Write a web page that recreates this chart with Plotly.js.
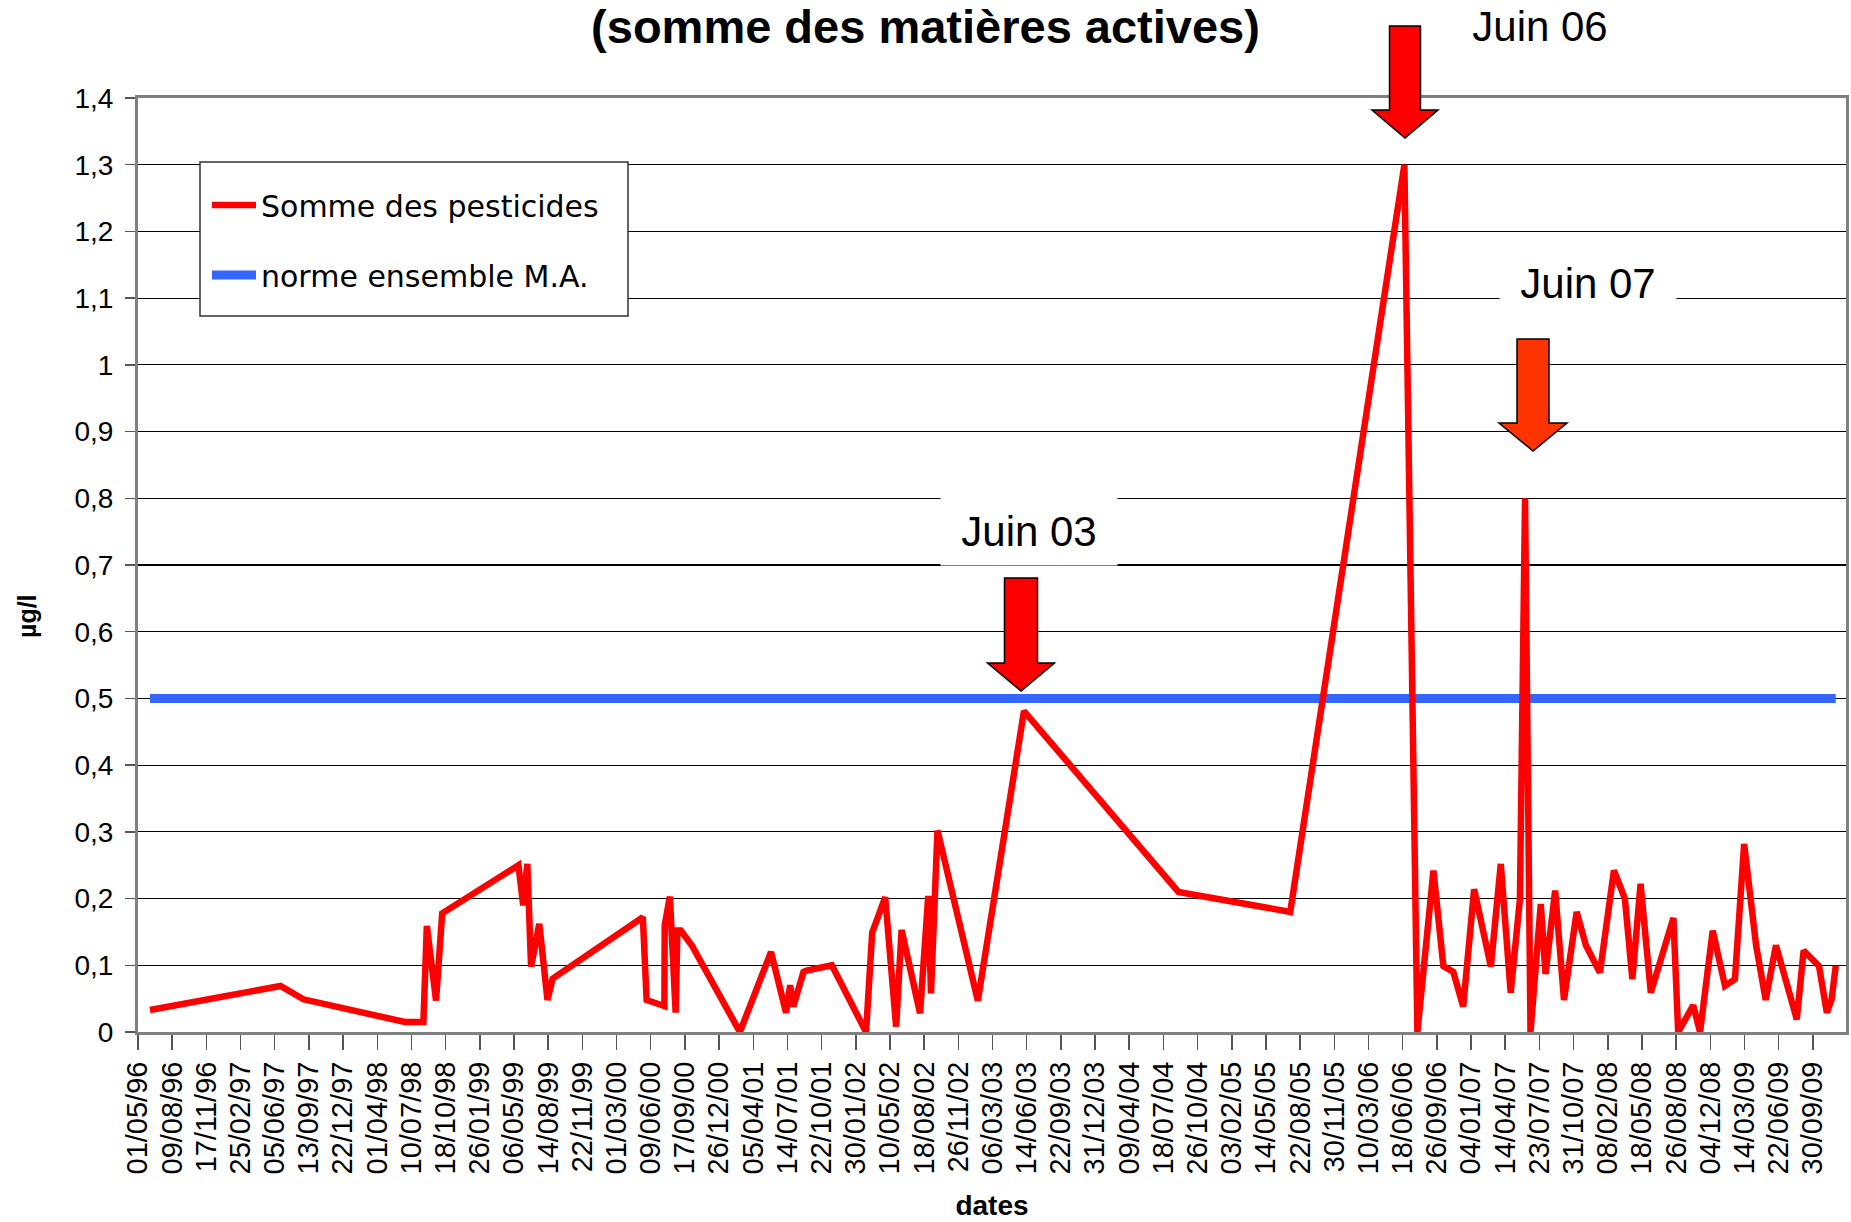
<!DOCTYPE html>
<html>
<head>
<meta charset="utf-8">
<script src="https://cdn.plot.ly/plotly-3.0.1.min.js"></script>
<style>html,body{margin:0;padding:0;background:#fff;}#chart{width:1851px;height:1222px;}</style>
</head>
<body>
<div id="chart"></div>
<script>
// ---- Data ----
const dates = [
  '1996-06-05','1997-06-22','1997-08-28','1998-06-21','1998-08-14','1998-08-24','1998-09-20','1998-10-08',
  '1999-05-19','1999-06-02','1999-06-14','1999-06-25','1999-07-19','1999-08-12','1999-08-27',
  '2000-05-17','2000-05-28','2000-07-19','2000-07-20','2000-08-04','2000-08-21','2000-08-26','2000-09-05','2000-10-07',
  '2001-02-25','2001-05-27','2001-07-10','2001-07-22','2001-07-31','2001-08-30','2001-09-08','2001-11-21',
  '2002-03-01','2002-03-19','2002-04-26','2002-05-18','2002-05-28','2002-06-13','2002-08-06','2002-08-30','2002-09-07','2002-09-26',
  '2003-01-22','2003-06-06','2004-08-31','2005-07-24','2006-06-23','2006-07-31',
  '2006-09-16','2006-10-15','2006-11-13','2006-12-12','2007-01-13','2007-03-03','2007-04-01','2007-04-30','2007-05-27',
  '2007-06-11','2007-06-27','2007-07-27','2007-08-10','2007-09-07','2007-10-03','2007-11-09','2007-12-06',
  '2008-01-16','2008-02-26','2008-03-29','2008-04-20','2008-05-14','2008-06-13','2008-08-18','2008-09-01','2008-10-15','2008-11-04','2008-12-11',
  '2009-01-16','2009-02-14','2009-03-13','2009-04-17','2009-05-15','2009-06-14','2009-08-14','2009-09-03','2009-10-18','2009-11-10','2009-11-24','2009-12-06'
];
const pesticides = [
  0.033,0.069,0.049,0.015,0.015,0.159,0.047,0.178,
  0.25,0.19,0.252,0.098,0.162,0.048,0.08,
  0.172,0.048,0.039,0.16,0.203,0.029,0.152,0.152,0.13,
  0,0.12,0.029,0.07,0.038,0.09,0.092,0.1,
  0,0.149,0.202,0.08,0.008,0.153,0.028,0.204,0.058,0.302,
  0.047,0.481,0.21,0.18,1.3,0,
  0.242,0.099,0.09,0.038,0.214,0.098,0.252,0.059,0.199,
  0.8,0,0.192,0.087,0.212,0.048,0.18,0.13,
  0.089,0.242,0.2,0.079,0.222,0.059,0.171,0,0.04,0,0.152,
  0.069,0.079,0.282,0.13,0.048,0.13,0.019,0.122,0.099,0.029,0.049,0.099
];
const normeDates = ['1996-06-05','2009-12-06'];
const normeValues = [0.5, 0.5];
const seriesNames = ['Somme des pesticides', 'norme ensemble M.A.'];
const xRange = ['1996-05-01', '2010-01-05'];
const xTick0 = '1996-05-01';
const xTickDays = 100;
const titleText = '(somme des matières actives)';
const xTitle = 'dates';
const yTitle = 'µg/l';
const callouts = ['Juin 06', 'Juin 07', 'Juin 03'];

// ---- Layout helpers (pixel -> paper) ----
const W = 1851, H = 1222;
const L = 138, R = 1846, T = 98, B = 1032;
const px = x => (x - L) / (R - L);
const py = y => (B - y) / (B - T);

function fontAvailable(name) {
  const c = document.createElement('canvas').getContext('2d');
  const t = '1,4 mwi0123 Juin';
  c.font = '40px monospace';
  const a = c.measureText(t).width;
  c.font = '40px "' + name + '", monospace';
  const b = c.measureText(t).width;
  return Math.abs(a - b) > 0.5;
}
const narrow = fontAvailable('Liberation Sans Narrow');
const yTickFont = narrow
  ? {family: '"Liberation Sans Narrow", "Liberation Sans", Arial, sans-serif', size: 34, color: '#000'}
  : {family: '"Liberation Sans", Arial, sans-serif', size: 28, color: '#000'};

function arrowPath(tipX, tipY, shaftHalf, headHalf, headLen, topY) {
  const hb = tipY - headLen;
  const pts = [
    [tipX - shaftHalf, topY], [tipX + shaftHalf, topY], [tipX + shaftHalf, hb],
    [tipX + headHalf, hb], [tipX, tipY], [tipX - headHalf, hb], [tipX - shaftHalf, hb]
  ];
  return 'M' + pts.map(p => px(p[0]).toFixed(5) + ',' + py(p[1]).toFixed(5)).join(' L') + ' Z';
}

const traces = [
  {
    type: 'scatter', mode: 'lines', name: seriesNames[1],
    x: normeDates, y: normeValues,
    line: {color: '#3366ff', width: 9},
    legendrank: 2, legendgroup: 'b', hoverinfo: 'skip'
  },
  {
    type: 'scatter', mode: 'lines', name: seriesNames[0],
    x: dates, y: pesticides,
    line: {color: '#ff0000', width: 6.5},
    legendrank: 1, legendgroup: 'a'
  }
];

const baseFont = '"Liberation Sans", Arial, sans-serif';
const calloutFont = {family: baseFont, size: 42, color: '#000'};
const layout = {
  width: W, height: H,
  margin: {l: L, r: W - R, t: T, b: H - B, pad: 0},
  paper_bgcolor: '#fff', plot_bgcolor: '#fff',
  separators: ', ',
  showlegend: true,
  title: {
    text: '<b>' + titleText + '</b>',
    font: {family: baseFont, size: 47, color: '#000'},
    xref: 'container', x: 0.5, xanchor: 'center',
    yref: 'container', y: 1 - 27 / H, yanchor: 'middle'
  },
  xaxis: {
    type: 'date', range: xRange,
    tick0: xTick0, dtick: xTickDays * 86400000,
    tickformat: '%d/%m/%y', tickangle: -90,
    tickfont: {family: baseFont, size: 29, color: '#000'},
    ticks: 'outside', ticklen: 15, tickcolor: '#555', tickwidth: 1.5,
    showgrid: false, zeroline: false,
    showline: true, linecolor: '#808080', linewidth: 3, mirror: true,
    title: {text: '<b>' + xTitle + '</b>', font: {family: baseFont, size: 28, color: '#000'}, standoff: 22}
  },
  yaxis: {
    range: [0, 1.4], dtick: 0.1, tick0: 0,
    tickfont: yTickFont,
    ticks: 'outside', ticklen: 10, tickcolor: '#555', tickwidth: 1.5,
    ticklabelstandoff: 6,
    showgrid: true, gridcolor: '#000', gridwidth: 1.2,
    zeroline: false,
    showline: true, linecolor: '#808080', linewidth: 3, mirror: true
  },
  legend: {
    x: px(207), y: py(179), xanchor: 'left', yanchor: 'top',
    bgcolor: 'rgba(0,0,0,0)', borderwidth: 0,
    font: {family: '"Comic Sans MS", "DejaVu Sans", sans-serif', size: 30, color: '#000'},
    itemwidth: 44,
    tracegroupgap: 28, traceorder: 'grouped'
  },
  shapes: [
    {type: 'rect', xref: 'paper', yref: 'paper', x0: px(200), x1: px(628), y0: py(162), y1: py(316),
     fillcolor: '#fff', line: {color: '#333', width: 1.5}, layer: 'above'},
    {type: 'path', xref: 'paper', yref: 'paper', path: arrowPath(1405, 138, 15.5, 33, 28, 26),
     fillcolor: '#ff0000', line: {color: '#000', width: 1.5}, layer: 'above'},
    {type: 'path', xref: 'paper', yref: 'paper', path: arrowPath(1533, 451, 16, 34, 28, 339),
     fillcolor: '#ff3300', line: {color: '#000', width: 1.5}, layer: 'above'},
    {type: 'path', xref: 'paper', yref: 'paper', path: arrowPath(1021, 691, 16.5, 33.5, 28, 578),
     fillcolor: '#ff0000', line: {color: '#000', width: 1.5}, layer: 'above'}
  ],
  annotations: [
    {text: '<b>' + yTitle + '</b>', xref: 'paper', yref: 'paper', x: -(L - 27) / (R - L), y: py(616),
     xanchor: 'center', yanchor: 'middle', textangle: -90, showarrow: false,
     font: {family: baseFont, size: 25, color: '#000'}},
    {text: callouts[0], xref: 'paper', yref: 'paper', x: px(1540), y: py(26), xanchor: 'center', yanchor: 'middle',
     showarrow: false, font: calloutFont, bgcolor: '#fff', width: 172, height: 64, borderpad: 2},
    {text: callouts[1], xref: 'paper', yref: 'paper', x: px(1588), y: py(283), xanchor: 'center', yanchor: 'middle',
     showarrow: false, font: calloutFont, bgcolor: '#fff', width: 172, height: 64, borderpad: 2},
    {text: callouts[2], xref: 'paper', yref: 'paper', x: px(1029), y: py(531), xanchor: 'center', yanchor: 'middle',
     showarrow: false, font: calloutFont, bgcolor: '#fff', width: 172, height: 64, borderpad: 2}
  ]
};

Plotly.newPlot('chart', traces, layout, {displayModeBar: false, staticPlot: true});
</script>
</body>
</html>
